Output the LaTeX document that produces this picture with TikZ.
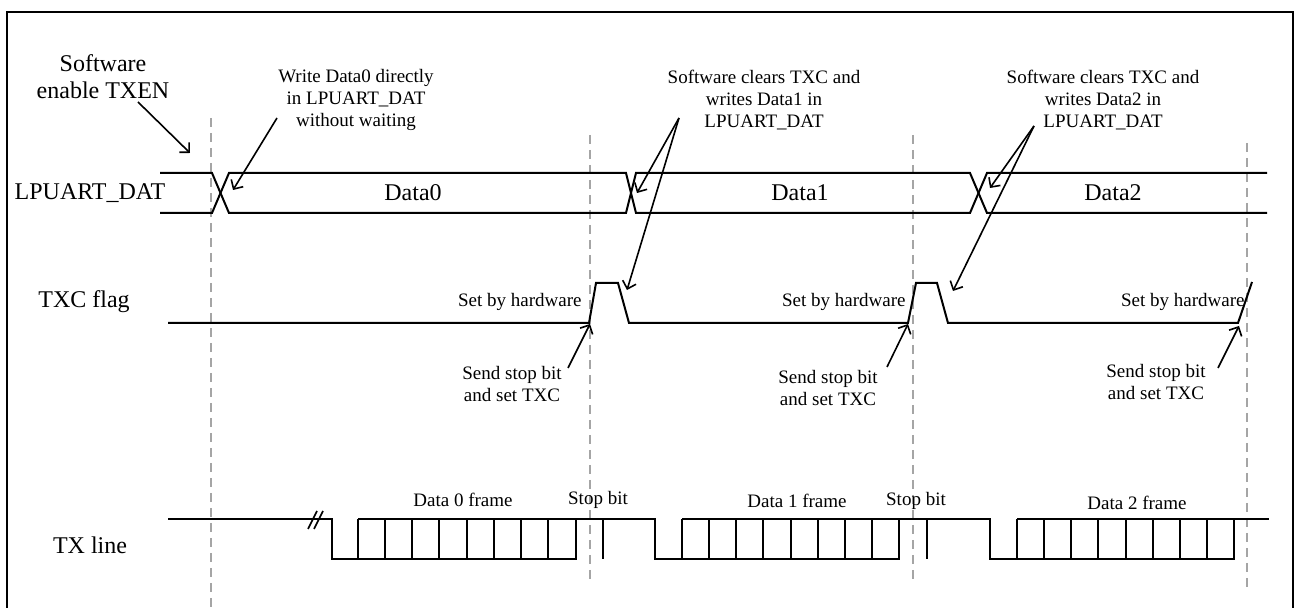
\documentclass[tikz,border=0pt]{standalone}
\usepackage{fontspec}
\setmainfont{Liberation Serif}
\usepackage{tikz}
\usetikzlibrary{arrows.meta}
\definecolor{GuideGray}{RGB}{165, 165, 165}

\begin{document}
\begin{tikzpicture}[x=0.5pt, y=-0.5pt, lb/.style={font=\fontsize{12}{13.5}\selectfont, align=center, inner sep=0pt}, nt/.style={font=\fontsize{9.5}{11}\selectfont, align=center, inner sep=0pt}, sig/.style={line width=1pt}, gd/.style={GuideGray, line width=0.7pt, dash pattern=on 4.5pt off 3pt}, ar/.style={-{Straight Barb[length=3.5pt, width=7pt]}, line width=0.8pt}]
\useasboundingbox (0,0) rectangle (1297,608);
\draw[line width=1pt] (7,608) -- (7,12) -- (1293,12) -- (1293,608);
% time guides
\draw[gd] (211,118) -- (211,608); \draw[gd] (590,135) -- (590,582); \draw[gd] (913,135) -- (913,582); \draw[gd] (1247,143) -- (1247,590);
% row labels
\node[lb] (txen) at (103,77) {Software\\enable TXEN};
\node[lb] (rdat) at (90,193) {LPUART\_DAT};
\node[lb] (rtxc) at (84,302) {TXC flag};
\node[lb] (rtx) at (90,545) {TX line};
% LPUART_DAT bus
\draw[sig] (160,173) -- (212,173) -- (229,213) -- (626,213) -- (636,173) -- (970,173) -- (987,213) -- (1267,213);
\draw[sig] (160,213) -- (212,213) -- (229,173) -- (626,173) -- (636,213) -- (970,213) -- (987,173) -- (1267,173);
\node[lb] (d0) at (413,193) {Data0};
\node[lb] (d1) at (800,193) {Data1};
\node[lb] (d2) at (1113,193) {Data2};
% TXC flag
\draw[sig] (168,323) -- (589,323) -- (596,283) -- (618,283) -- (629,323) -- (908,323) -- (916,283) -- (937,283) -- (948,323) -- (1238,323) -- (1252,282);
\node[nt, anchor=east] (hw1) at (582,302) {Set by hardware};
\node[nt, anchor=east] (hw2) at (906,302) {Set by hardware};
\node[nt, anchor=east] (hw3) at (1245,302) {Set by hardware};
\node[nt] (sb1) at (512,384) {Send stop bit\\and set TXC};
\node[nt] (sb2) at (828,388) {Send stop bit\\and set TXC};
\node[nt] (sb3) at (1156,382) {Send stop bit\\and set TXC};
% TX line
\draw[sig] (168,519) -- (332,519) -- (332,559) -- (576,559) -- (576,519) -- (655,519) -- (655,559) -- (899,559) -- (899,519) -- (990,519) -- (990,559) -- (1234,559) -- (1234,519) -- (1269,519);
\foreach \s/\e in {358/576, 682/899, 1017/1234} {
  \draw[sig] (\s,519) -- (\e,519);
  \foreach \i in {0,...,7} \draw[sig] (\s+\i*27.15,519) -- (\s+\i*27.15,559);
}
\draw[sig] (603,519) -- (603,559); \draw[sig] (927,519) -- (927,559);
\draw[line width=0.8pt] (308,529) -- (317,511); \draw[line width=0.8pt] (314,529) -- (323,511);
\node[nt] (f0) at (463,500) {Data 0 frame};
\node[nt] (s0) at (598,500) {Stop bit};
\node[nt] (f1) at (797,501) {Data 1 frame};
\node[nt] (s1) at (916,501) {Stop bit};
\node[nt] (f2) at (1137,503) {Data 2 frame};
% notes above
\node[nt] (wr0) at (356,100) {Write Data0 directly\\in LPUART\_DAT\\without waiting};
\node[nt] (cl1) at (764,100) {Software clears TXC and\\writes Data1 in\\LPUART\_DAT};
\node[nt] (cl2) at (1103,100) {Software clears TXC and\\writes Data2 in\\LPUART\_DAT};
% arrow ends
\coordinate (a0) at (138,102); \coordinate (t0) at (190,153);
\coordinate (a1) at (277,118); \coordinate (t1) at (233,190);
\coordinate (a2) at (679,118); \coordinate (t2) at (637,193); \coordinate (t2b) at (627,290);
\coordinate (a3) at (1034,126); \coordinate (t3) at (990,188); \coordinate (t3b) at (953,291);
\coordinate (a4) at (568,368); \coordinate (t4) at (590,324);
\coordinate (a5) at (887,367); \coordinate (t5) at (908,324);
\coordinate (a6) at (1218,368); \coordinate (t6) at (1239,326);
\draw[ar] (a0) -- (t0); \draw[ar] (a1) -- (t1); \draw[ar] (a2) -- (t2); \draw[ar] (a2) -- (t2b); \draw[ar] (a3) -- (t3); \draw[ar] (a3) -- (t3b);
\draw[ar] (a4) -- (t4); \draw[ar] (a5) -- (t5); \draw[ar] (a6) -- (t6);
\end{tikzpicture}
\end{document}
